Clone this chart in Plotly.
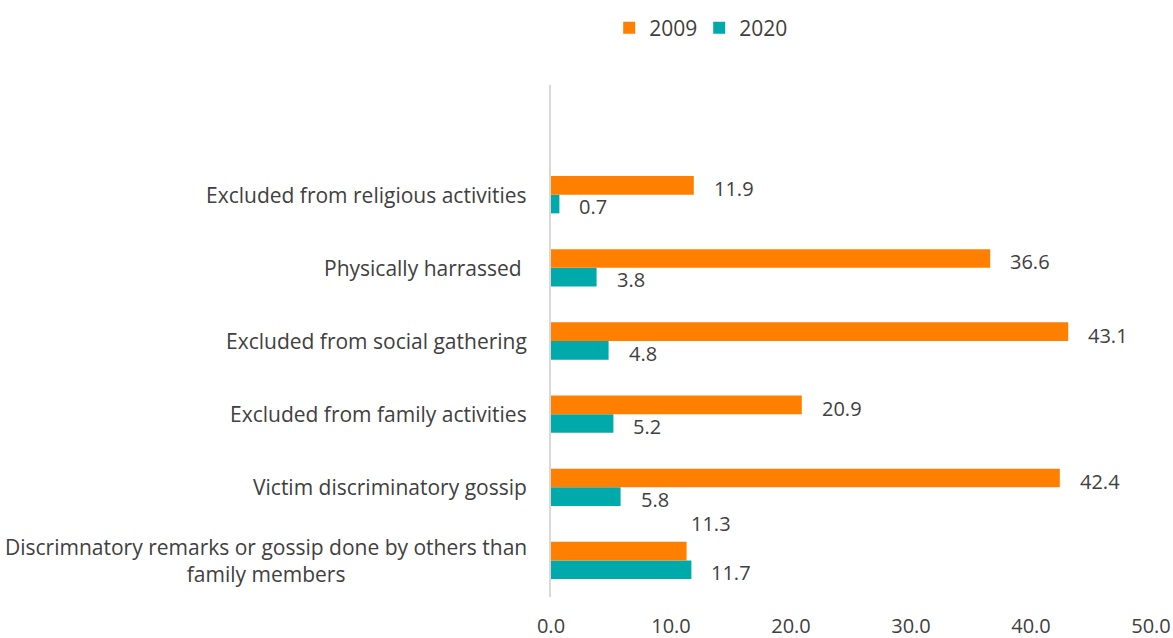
import plotly.graph_objects as go

categories = [
    "Discrimnatory remarks or gossip done by others than<br>family members",
    "Victim discriminatory gossip",
    "Excluded from family activities",
    "Excluded from social gathering",
    "Physically harrassed ",
    "Excluded from religious activities",
    " ",
]
values_2009 = [11.3, 42.4, 20.9, 43.1, 36.6, 11.9, None]
values_2020 = [11.7, 5.8, 5.2, 4.8, 3.8, 0.7, None]
x_ticks = [0, 10, 20, 30, 40, 50]

ORANGE = "#FF7F00"
TEAL = "#00A9AA"
TXT = "#404040"
FONT = "Open Sans"

fig = go.Figure()
fig.add_trace(go.Bar(y=categories, x=values_2020, orientation="h", name="2020",
                     marker=dict(color=TEAL, line=dict(width=0))))
fig.add_trace(go.Bar(y=categories, x=values_2009, orientation="h", name="2009",
                     marker=dict(color=ORANGE, line=dict(width=0))))

annotations = []
for i, cat in enumerate(categories):
    if values_2009[i] is None:
        continue
    annotations.append(dict(x=0, xref="paper", y=cat, yref="y", text=cat,
                            xanchor="right", align="center", showarrow=False,
                            xshift=-22, font=dict(family=FONT, size=21, color=TXT)))
    v9, v20 = values_2009[i], values_2020[i]
    if i == 0:
        xs9, ys9 = 2, 37
    else:
        xs9, ys9 = 18, 6
    annotations.append(dict(x=v9, y=cat, text=f"{v9:.1f}", xanchor="left", showarrow=False,
                            xshift=xs9, yshift=ys9, font=dict(family=FONT, size=20, color=TXT)))
    annotations.append(dict(x=v20, y=cat, text=f"{v20:.1f}", xanchor="left", showarrow=False,
                            xshift=18, yshift=-12, font=dict(family=FONT, size=20, color=TXT)))

fig.update_layout(
    width=1173, height=638,
    margin=dict(l=551, r=22, t=85, b=41, autoexpand=False),
    paper_bgcolor="white", plot_bgcolor="white",
    barmode="group", bargap=0.49, bargroupgap=0,
    font=dict(family=FONT, size=20, color=TXT),
    legend=dict(orientation="h", x=0.097, xanchor="left", y=0.956, yanchor="middle",
                yref="container", traceorder="reversed", entrywidth=45,
                font=dict(family=FONT, size=21, color=TXT)),
    xaxis=dict(range=[0, 50], tickvals=x_ticks, tickformat=".1f", showgrid=False,
               zeroline=False, showline=False, ticks="", ticklabelstandoff=15,
               automargin=False, tickfont=dict(family=FONT, size=20, color=TXT)),
    yaxis=dict(showticklabels=False, showline=True, linecolor="#D9D9D9", linewidth=2,
               showgrid=False, ticks="", range=[-0.5, 6.5], automargin=False),
    annotations=annotations,
)
fig.write_html("out.html")
